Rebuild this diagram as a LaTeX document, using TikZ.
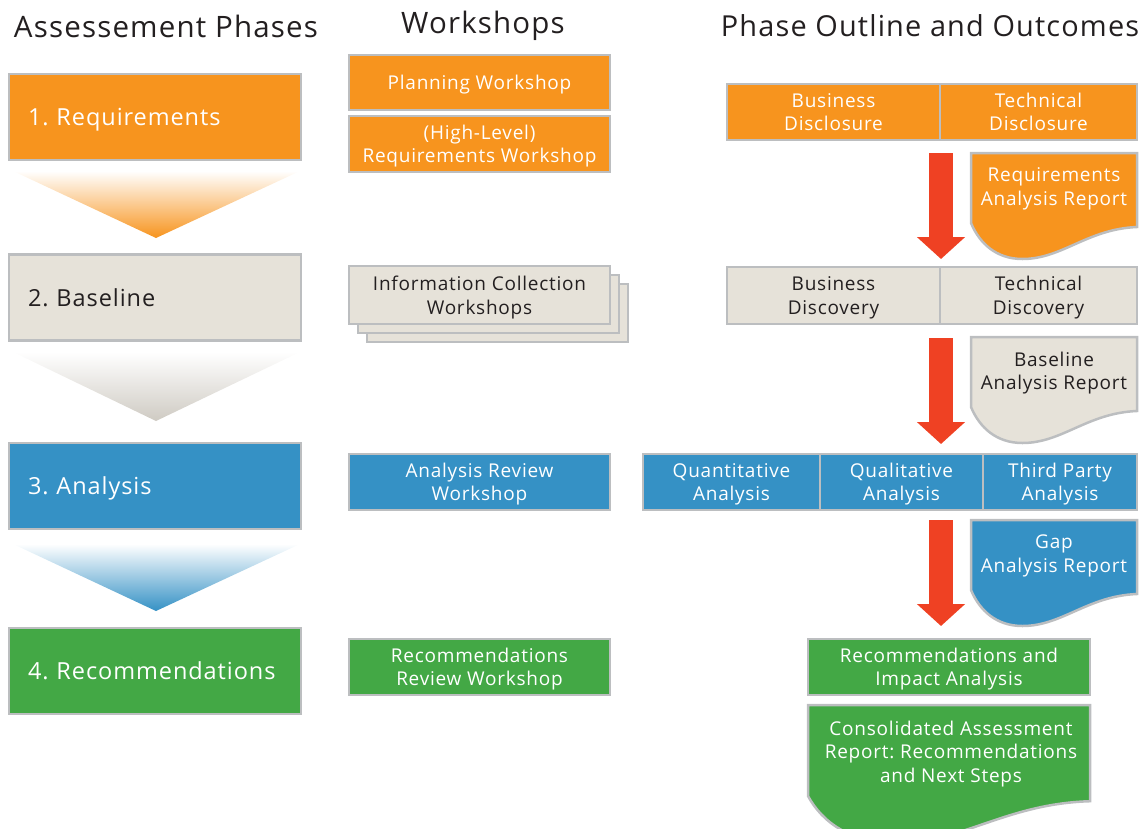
\documentclass[tikz,border=0pt]{standalone}
\usepackage{fontspec}
\setmainfont{Open Sans}[LetterSpace=4]
\usetikzlibrary{arrows.meta}
\definecolor{orng}{HTML}{F7941E}
\definecolor{beig}{HTML}{E6E2D9}
\definecolor{blu}{HTML}{3591C5}
\definecolor{grn}{HTML}{43A845}
\definecolor{redarr}{HTML}{EF4123}
\definecolor{edgegray}{HTML}{BCBEC0}
\definecolor{darktxt}{HTML}{231F20}
\tikzset{
  box/.style={draw=edgegray, line width=2.5pt, inner sep=0pt, align=center,
     text depth=0pt, font=\fontsize{19}{23.5}\selectfont},
  obox/.style={box, fill=orng, text=white},
  bbox/.style={box, fill=beig, text=darktxt},
  ubox/.style={box, fill=blu, text=white},
  gbox/.style={box, fill=grn, text=white},
  phase/.style={minimum width=292pt, minimum height=86pt, align=left,
     text width=254pt, font=\fontsize{23.5}{28}\selectfont},
  hdr/.style={font=\fontsize{29.5}{34}\selectfont, text=darktxt, inner sep=0pt},
  doctxt/.style={align=center, inner sep=0pt, font=\fontsize{19}{23.5}\selectfont},
  docline/.style={draw=edgegray, line width=2.5pt},
  bigarrow/.style={draw=redarr, line width=24pt,
     -{Triangle[width=47pt,length=22pt]}},
}
\newcommand{\docpath}[4]{% x1, x2, top, scale
  (#1,#3) -- (#2,#3) -- (#2,{#3+74*#4})
  .. controls ({#2-0.3*(#2-#1)},{#3+76*#4}) and ({#1+0.55*(#2-#1)},{#3+106*#4})
  .. ({#1+0.31*(#2-#1)},{#3+106*#4})
  .. controls ({#1+0.15*(#2-#1)},{#3+106*#4}) and ({#1+0.05*(#2-#1)},{#3+90*#4})
  .. (#1,{#3+70*#4}) -- cycle}
\begin{document}
\frenchspacing
\begin{tikzpicture}[x=1pt,y=-1pt]
\useasboundingbox (0,0) rectangle (1143,828);

% headers
\node[hdr] (h1) at (166,26) {Assessement Phases};
\node[hdr] (h2) at (483,26) {Workshops};
\node[hdr, font=\fontsize{28.9}{34}\selectfont] (h3) at (930,26) {Phase Outline and Outcomes};

% gradient triangles
\shade[top color=white, bottom color=orng] (13,171) -- (300,171) -- (156,238) -- cycle;
\shade[top color=white, bottom color=beig!88!darktxt] (13,352) -- (300,352) -- (156,421) -- cycle;
\shade[top color=white, bottom color=blu] (13,544) -- (300,544) -- (156,611) -- cycle;

% phases
\node[obox, phase] (p1) at (155,117) {1. Requirements};
\node[bbox, phase] (p2) at (155,297.5) {2. Baseline};
\node[ubox, phase] (p3) at (155,486) {3. Analysis};
\node[gbox, phase] (p4) at (155,671) {4. Recommendations};

% workshops
\node[obox, minimum width=261pt, minimum height=55pt] (w1) at (479.5,82.5) {Planning Workshop};
\node[obox, minimum width=261pt, minimum height=56pt] (w2) at (479.5,144) {(High-Level)\\Requirements Workshop};
\node[bbox, minimum width=261pt, minimum height=58pt] (w3c) at (497.5,313) {};
\node[bbox, minimum width=261pt, minimum height=58pt] (w3b) at (488.5,304) {};
\node[bbox, minimum width=261pt, minimum height=58pt] (w3) at (479.5,295) {Information Collection\\Workshops};
\node[ubox, minimum width=261pt, minimum height=56pt] (w4) at (479.5,482) {Analysis Review\\Workshop};
\node[gbox, minimum width=261pt, minimum height=56pt] (w5) at (479.5,667) {Recommendations\\Review Workshop};

% outline row 1
\node[obox, minimum width=213pt, minimum height=56pt] (bd) at (833.5,112) {Business\\Disclosure};
\node[obox, minimum width=197pt, minimum height=56pt] (td) at (1038.5,112) {Technical\\Disclosure};
\fill[orng] \docpath{971}{1137}{153}{1};
\draw[docline] \docpath{971}{1137}{153}{1};
\node[doctxt, text=white] (r1) at (1054,189) {Requirements\\Analysis Report};

% row 2
\node[bbox, minimum width=213pt, minimum height=57pt] (bdv) at (833.5,295.5) {Business\\Discovery};
\node[bbox, minimum width=197pt, minimum height=57pt] (tdv) at (1038.5,295.5) {Technical\\Discovery};
\fill[beig] \docpath{971}{1137}{337}{1};
\draw[docline] \docpath{971}{1137}{337}{1};
\node[doctxt, text=darktxt] (r2) at (1054,373) {Baseline\\Analysis Report};

% row 3
\node[ubox, minimum width=177pt, minimum height=56pt] (qa) at (731.5,482) {Quantitative\\Analysis};
\node[ubox, minimum width=163pt, minimum height=56pt] (ql) at (901.5,482) {Qualitative\\Analysis};
\node[ubox, minimum width=154pt, minimum height=56pt] (tp) at (1060,482) {Third Party\\Analysis};
\fill[blu] \docpath{971}{1137}{520}{1};
\draw[docline] \docpath{971}{1137}{520}{1};
\node[doctxt, text=white] (r3) at (1054,556) {Gap\\Analysis Report};

% row 4
\node[gbox, minimum width=282pt, minimum height=56pt] (ria) at (949,667) {Recommendations and\\Impact Analysis};
\begin{scope}
\clip (0,0) rectangle (1143,828);
\fill[grn] \docpath{808}{1090}{705}{1.3};
\draw[docline] \docpath{808}{1090}{705}{1.3};
\end{scope}
\node[doctxt, text=white] (r4) at (951,754) {Consolidated Assessment\\Report: Recommendations\\and Next Steps};

% arrows
\coordinate (a1s) at (941,153);
\coordinate (a1e) at (941,259);
\coordinate (a2s) at (941,338);
\coordinate (a2e) at (941,444);
\coordinate (a3s) at (941,520);
\coordinate (a3e) at (941,626);
\draw[bigarrow] (a1s) -- (a1e);
\draw[bigarrow] (a2s) -- (a2e);
\draw[bigarrow] (a3s) -- (a3e);
\end{tikzpicture}
\end{document}
